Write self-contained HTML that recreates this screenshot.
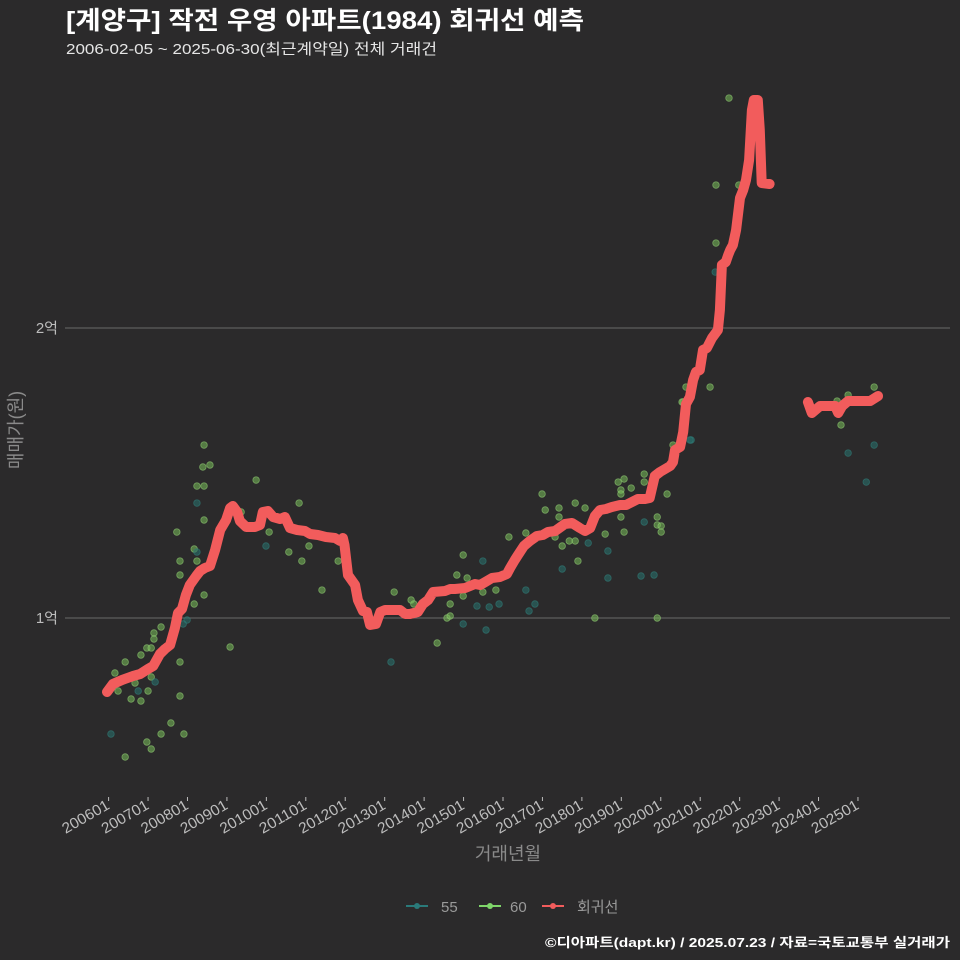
<!DOCTYPE html>
<html><head><meta charset="utf-8"><style>
body{margin:0;background:#2b2a2b;}
svg{display:block;font-family:"Liberation Sans","Noto Sans CJK KR",sans-serif;}
</style></head><body>
<svg id="c" width="960" height="960" viewBox="0 0 960 960">
<rect width="960" height="960" fill="#2b2a2b"/>
<text x="66" y="29" fill="#ffffff" font-size="25" font-weight="bold" textLength="518" lengthAdjust="spacingAndGlyphs">[계양구] 작전 우영 아파트(1984) 회귀선 예측</text>
<text x="66" y="54" fill="#e6e6e6" font-size="15" textLength="371" lengthAdjust="spacingAndGlyphs">2006-02-05 ~ 2025-06-30(최근계약일) 전체 거래건</text>
<text transform="translate(22,430) rotate(-90)" text-anchor="middle" fill="#8a8a8a" font-size="18">매매가(원)</text>
<text x="508" y="860" text-anchor="middle" fill="#8a8a8a" font-size="18">거래년월</text>
<g id="grid"></g><g id="xticks"></g><g id="pts"></g><g id="line"></g>
<g>
<g><line x1="406" y1="906" x2="428" y2="906" stroke="#2a7a7a" stroke-width="2"/><circle cx="417" cy="906" r="3" fill="#2a7a7a"/><text x="441" y="912" fill="#9a9a9a" font-size="15">55</text></g>
<g><line x1="479" y1="906" x2="501" y2="906" stroke="#7fd66a" stroke-width="2"/><circle cx="490" cy="906" r="3" fill="#7fd66a"/><text x="510" y="912" fill="#9a9a9a" font-size="15">60</text></g>
<g><line x1="542" y1="906" x2="564" y2="906" stroke="#f25c5c" stroke-width="2"/><circle cx="553" cy="906" r="3" fill="#f25c5c"/><text x="577" y="912" fill="#9a9a9a" font-size="15">회귀선</text></g>
</g>
<text x="545" y="947" fill="#ffffff" font-size="13" font-weight="bold" textLength="405" lengthAdjust="spacingAndGlyphs">©디아파트(dapt.kr) / 2025.07.23 / 자료=국토교통부 실거래가</text>
</svg>
<script>
const yTickValues=[10000,20000];
const yTickLabels=["1억","2억"];
const xTickYears=[2006,2007,2008,2009,2010,2011,2012,2013,2014,2015,2016,2017,2018,2019,2020,2021,2022,2023,2024,2025];
const xTickLabels=["200601","200701","200801","200901","201001","201101","201201","201301","201401","201501","201601","201701","201801","201901","202001","202101","202201","202301","202401","202501"];
const lineDates=[2005.96,2006.11,2006.34,2006.62,2006.80,2007.00,2007.13,2007.30,2007.43,2007.56,2007.68,2007.76,2007.86,2007.96,2008.06,2008.22,2008.32,2008.44,2008.57,2008.70,2008.83,2008.98,2009.08,2009.15,2009.26,2009.33,2009.49,2009.71,2009.84,2009.91,2010.04,2010.17,2010.35,2010.47,2010.60,2010.78,2010.98,2011.11,2011.31,2011.51,2011.74,2011.87,2011.94,2011.98,2012.07,2012.25,2012.32,2012.45,2012.55,2012.63,2012.78,2012.89,2013.01,2013.39,2013.52,2013.64,2013.84,2013.97,2014.10,2014.23,2014.53,2014.66,2014.78,2015.04,2015.29,2015.42,2015.55,2015.72,2015.92,2016.10,2016.18,2016.30,2016.38,2016.53,2016.68,2016.86,2017.01,2017.14,2017.32,2017.57,2017.75,2017.95,2018.08,2018.21,2018.33,2018.46,2018.61,2018.76,2018.97,2019.12,2019.27,2019.42,2019.60,2019.72,2019.85,2019.98,2020.11,2020.24,2020.31,2020.36,2020.49,2020.57,2020.64,2020.74,2020.82,2020.89,2020.99,2021.07,2021.17,2021.30,2021.45,2021.50,2021.55,2021.65,2021.71,2021.76,2021.83,2021.91,2022.01,2022.09,2022.16,2022.24,2022.31,2022.36,2022.46,2022.51,2022.56,2022.76,2023.2,2023.73,2023.83,2024.04,2024.42,2024.50,2024.60,2024.75,2025.31,2025.51];
const lineValues=[7450,7724,7862,8000,8069,8241,8345,8759,8931,9069,9655,10172,10310,10793,11138,11448,11621,11724,11793,12345,13034,13379,13793,13862,13655,13345,13138,13138,13207,13655,13690,13483,13414,13483,13103,13034,13000,12896,12862,12793,12759,12655,12759,12517,11483,11138,10621,10241,10207,9759,9793,10207,10276,10276,10138,10138,10207,10483,10621,10896,10931,11000,11000,11034,11172,11138,11241,11379,11414,11517,11724,12000,12172,12483,12655,12827,12862,12965,13000,13241,13276,13103,13000,13103,13517,13724,13758,13827,13896,13896,14000,14103,14103,14138,14896,15034,15138,15241,15379,15793,15896,16414,17379,17620,18207,18482,18551,19241,19310,19654,19930,20620,22171,22275,22516,22688,22861,23378,24482,24757,25102,25792,27516,27861,27861,26826,25000,24964,null,17448,17069,17310,17310,17069,17310,17482,17482,17655];
const ptDates=[2008.42,2008.39,2008.57,2008.24,2008.42,2008.24,2007.73,2008.42,2009.74,2010.83,2009.99,2010.07,2010.57,2010.90,2011.08,2011.82,2011.41,2008.17,2008.24,2008.24,2007.81,2007.81,2008.42,2008.17,2007.99,2007.89,2009.08,2007.33,2007.15,2007.15,2006.97,2007.08,2006.82,2006.42,2006.16,2007.81,2007.08,2007.18,2006.67,2006.75,2007.00,2006.24,2006.57,2006.82,2007.81,2007.58,2007.33,2007.91,2006.06,2006.97,2007.08,2006.42,2009.36,2013.24,2013.67,2013.74,2014.66,2014.58,2014.66,2014.33,2013.16,2014.99,2014.83,2015.09,2014.99,2015.49,2015.49,2015.34,2015.65,2015.90,2015.82,2014.99,2015.57,2016.15,2016.58,2016.66,2016.81,2016.58,2016.99,2017.07,2017.42,2017.42,2017.32,2017.50,2017.68,2017.83,2017.83,2018.08,2017.90,2017.50,2018.16,2018.66,2018.66,2018.59,2018.33,2018.99,2019.07,2018.92,2018.99,2018.99,2019.07,2019.25,2019.58,2019.58,2019.58,2019.50,2019.83,2019.91,2019.91,2019.91,2020.01,2020.01,2020.16,2020.31,2020.57,2020.77,2021.73,2021.40,2021.98,2021.40,2021.38,2021.25,2021.07,2020.64,2020.54,2020.74,2025.41,2024.75,2024.47,2024.57,2024.75,2025.41,2025.21];
const ptValues=[15965,15207,15276,14551,14551,13965,12965,13379,14758,13965,12483,12965,12276,11965,12483,11965,10965,12379,12276,11965,11965,11483,10793,10483,9931,9793,9000,9690,9483,9276,8966,8966,8724,8483,8104,8483,7966,7793,7759,7483,7483,7483,7207,7138,7310,6379,6000,6000,6000,5724,5483,5207,13655,10896,10621,10483,10483,10000,10069,9138,8483,12172,11483,11379,10759,11965,10896,10414,10379,10483,10965,9793,9586,12793,10965,10241,10483,12931,14276,13724,13793,13483,12793,12483,12655,12655,13965,13793,11965,11690,12586,12310,11379,12896,10000,13483,12965,14689,14414,14276,14793,14482,14965,14689,13310,11448,11483,10000,13483,13207,13172,12965,14276,15965,17448,16138,27930,24930,24930,22930,21930,17965,18965,17965,17448,16138,17965,17689,17482,16655,15689,15965,14689];
const ptArea=[60,60,60,60,60,55,60,60,60,60,55,60,60,60,60,60,60,60,55,60,60,60,60,60,55,55,60,60,60,60,60,60,60,60,60,60,60,55,60,55,60,60,60,60,60,60,60,60,55,60,60,60,60,60,60,60,60,60,60,60,55,60,60,60,60,55,60,55,55,55,60,55,55,60,55,55,55,60,60,60,60,60,60,60,60,60,60,60,60,55,55,55,55,60,60,60,60,60,60,60,60,60,60,60,55,55,55,60,60,60,60,60,60,60,60,55,60,60,60,60,55,60,55,60,60,55,60,60,60,60,55,55,55];
const NS="http://www.w3.org/2000/svg";
function xS(t){return 108.6+(t-2006)*39.44;}
function yS(v){return 618-(v-10000)*0.029;}
const grid=document.getElementById('grid');
yTickValues.forEach((v,i)=>{
 const l=document.createElementNS(NS,'line');
 l.setAttribute('x1',65);l.setAttribute('x2',950);l.setAttribute('y1',yS(v));l.setAttribute('y2',yS(v));
 l.setAttribute('stroke','#6a6a6a');l.setAttribute('stroke-width','1');
 
 
 grid.appendChild(l);
 const t=document.createElementNS(NS,'text');
 t.setAttribute('x',58);t.setAttribute('y',yS(v)+5);t.setAttribute('text-anchor','end');
 t.setAttribute('fill','#bdbdbd');t.setAttribute('font-size','15');t.textContent=yTickLabels[i];
 
 
 grid.appendChild(t);
});
const xt=document.getElementById('xticks');
xTickYears.forEach((yr,i)=>{
 const x=xS(yr);
 const l=document.createElementNS(NS,'line');
 l.setAttribute('x1',x);l.setAttribute('x2',x);l.setAttribute('y1',797);l.setAttribute('y2',801);
 l.setAttribute('stroke','#bbbbbb');
 
 
 xt.appendChild(l);
 const t=document.createElementNS(NS,'text');
 t.setAttribute('transform','translate('+(x+2)+',808) rotate(-30)');
 t.setAttribute('text-anchor','end');t.setAttribute('fill','#bdbdbd');t.setAttribute('font-size','15');
 t.setAttribute('textLength','52');t.setAttribute('lengthAdjust','spacingAndGlyphs');
 t.textContent=xTickLabels[i];
 
 
 xt.appendChild(t);
});
const pts=document.getElementById('pts');
ptDates.forEach((d,i)=>{
 const c=document.createElementNS(NS,'circle');
 c.setAttribute('cx',xS(d));c.setAttribute('cy',yS(ptValues[i]));c.setAttribute('r',3.3);
 const is60=ptArea[i]===60;
 c.setAttribute('fill',is60?'rgba(120,190,90,0.55)':'rgba(40,110,105,0.6)');
 c.setAttribute('stroke',is60?'rgba(150,210,120,0.6)':'rgba(50,130,125,0.6)');
 c.setAttribute('stroke-width','0.8');
 
 
 pts.appendChild(c);
});
const lg=document.getElementById('line');
let segs=[],cur=[];
lineDates.forEach((d,i)=>{
 if(lineValues[i]===null){if(cur.length)segs.push(cur);cur=[];return;}
 cur.push(xS(d).toFixed(1)+','+yS(lineValues[i]).toFixed(1));
});
if(cur.length)segs.push(cur);
segs.forEach(s=>{
 const p=document.createElementNS(NS,'polyline');
 p.setAttribute('points',s.join(' '));
 p.setAttribute('fill','none');p.setAttribute('stroke','#f25c5c');p.setAttribute('stroke-width','10');
 p.setAttribute('stroke-linejoin','round');p.setAttribute('stroke-linecap','round');
 
 
 lg.appendChild(p);
});
</script>
</body></html>
